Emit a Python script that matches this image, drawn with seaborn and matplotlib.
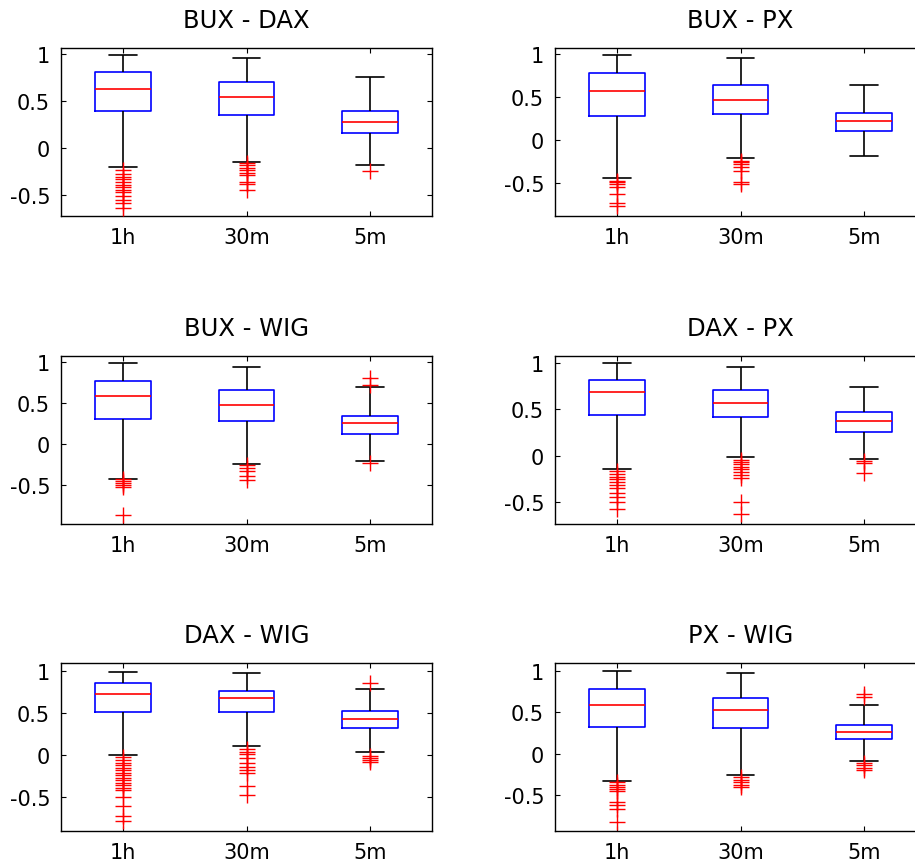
import matplotlib
matplotlib.use("Agg")
import matplotlib.pyplot as plt
from matplotlib.ticker import FuncFormatter
import pandas as pd
import seaborn as sns

freqs = ["1h", "30m", "5m"]
titles = ["BUX - DAX", "BUX - PX", "BUX - WIG", "DAX - PX", "DAX - WIG", "PX - WIG"]

# box summaries per frequency: [lower whisker, q1, median, q3, upper whisker]
bux_dax = [[-0.21, 0.386, 0.62, 0.80, 0.99],
           [-0.154, 0.35, 0.54, 0.70, 0.95],
           [-0.19, 0.157, 0.275, 0.386, 0.757]]
bux_px = [[-0.436, 0.278, 0.567, 0.771, 0.987],
          [-0.208, 0.297, 0.467, 0.632, 0.945],
          [-0.181, 0.104, 0.216, 0.316, 0.632]]
bux_wig = [[-0.418, 0.308, 0.592, 0.77, 0.993],
           [-0.239, 0.284, 0.482, 0.661, 0.944],
           [-0.203, 0.13, 0.263, 0.349, 0.701]]
dax_px = [[-0.15, 0.432, 0.682, 0.814, 0.993],
          [-0.011, 0.411, 0.564, 0.704, 0.954],
          [-0.032, 0.257, 0.375, 0.468, 0.739]]
dax_wig = [[0.0, 0.509, 0.722, 0.853, 0.995],
           [0.103, 0.509, 0.683, 0.766, 0.983],
           [0.04, 0.32, 0.426, 0.529, 0.786]]
px_wig = [[-0.324, 0.328, 0.588, 0.784, 0.995],
          [-0.256, 0.308, 0.524, 0.672, 0.98],
          [-0.084, 0.176, 0.264, 0.348, 0.588]]

# outliers per frequency
bux_dax_out = [[-0.243, -0.28, -0.314, -0.339, -0.368, -0.393, -0.421, -0.446, -0.475, -0.518, -0.554, -0.589, -0.643],
               [-0.168, -0.189, -0.214, -0.239, -0.268, -0.293, -0.368, -0.386, -0.45],
               [-0.25]]
bux_px_out = [[-0.467, -0.486, -0.51, -0.536, -0.62, -0.729, -0.76],
              [-0.235, -0.255, -0.28, -0.312, -0.359, -0.478, -0.505],
              []]
bux_wig_out = [[-0.43, -0.45, -0.47, -0.5, -0.527, -0.86],
               [-0.255, -0.284, -0.324, -0.385, -0.438],
               [0.726, 0.815, -0.223]]
dax_px_out = [[-0.171, -0.2, -0.229, -0.257, -0.286, -0.314, -0.346, -0.4, -0.45, -0.5, -0.579],
              [-0.046, -0.071, -0.096, -0.121, -0.146, -0.175, -0.204, -0.246, -0.504, -0.632],
              [-0.057, -0.082, -0.189]]
dax_wig_out = [[-0.028, -0.06, -0.09, -0.12, -0.15, -0.18, -0.21, -0.24, -0.27, -0.3, -0.33, -0.36, -0.39, -0.42,
                -0.5, -0.604, -0.73, -0.79],
               [0.071, 0.04, 0.008, -0.03, -0.095, -0.146, -0.178, -0.217, -0.371, -0.478],
               [0.853, -0.008, -0.036, -0.059, -0.087]]
px_wig_out = [[-0.344, -0.372, -0.396, -0.424, -0.452, -0.584, -0.624, -0.664, -0.824],
              [-0.284, -0.312, -0.34, -0.372, -0.404],
              [0.716, 0.688, -0.112, -0.14, -0.168, -0.196]]

boxes = [bux_dax, bux_px, bux_wig, dax_px, dax_wig, px_wig]
outs = [bux_dax_out, bux_px_out, bux_wig_out, dax_px_out, dax_wig_out, px_wig_out]
ylims = [(-0.725, 1.06), (-0.872, 1.064), (-0.973, 1.074),
         (-0.736, 1.068), (-0.9, 1.097), (-0.928, 1.096)]

sns.set_theme(style="ticks", rc={
    "xtick.direction": "in", "ytick.direction": "in",
    "xtick.top": True, "ytick.right": True,
    "xtick.major.size": 3.5, "ytick.major.size": 3.5,
    "axes.linewidth": 1.0, "axes.edgecolor": "black",
    "axes.unicode_minus": False,
    "text.color": "black", "axes.labelcolor": "black",
    "xtick.color": "black", "ytick.color": "black",
})
plt.rcParams["font.family"] = ["DejaVu Sans"]

fig = plt.figure(figsize=(9.15, 8.62), dpi=100)

lefts = [0.067, 0.6069]
bottoms = [0.7486, 0.3910, 0.0352]
w, h = 0.4048, 0.1945

for i in range(6):
    ax = fig.add_axes([lefts[i % 2], bottoms[i // 2], w, h])

    box_df = pd.DataFrame([(f, v) for f, vals in zip(freqs, boxes[i]) for v in vals],
                          columns=["freq", "value"])
    out_df = pd.DataFrame([(f, v) for f, vals in zip(freqs, outs[i]) for v in vals],
                          columns=["freq", "value"])

    sns.boxplot(data=box_df, x="freq", y="value", order=freqs, ax=ax,
                whis=(0, 100), width=0.45, fill=False, showfliers=False, linewidth=1.2,
                boxprops=dict(color="blue"), medianprops=dict(color="red"),
                whiskerprops=dict(color="black"), capprops=dict(color="black"))
    sns.stripplot(data=out_df, x="freq", y="value", order=freqs, ax=ax,
                  jitter=False, marker="+", color="red", size=12, linewidth=1)

    ax.set_xlim(-0.5, 2.5)
    ax.set_ylim(*ylims[i])
    ax.set_yticks([-0.5, 0, 0.5, 1])
    ax.yaxis.set_major_formatter(FuncFormatter(lambda v, p: f"{v:g}"))
    ax.set_xlabel("")
    ax.set_ylabel("")
    ax.tick_params(axis="both", labelsize=15, pad=8, width=0.8)
    ax.set_title(titles[i], fontsize=17.5, pad=15)
    for s in ax.spines.values():
        s.set_visible(True)

fig.savefig("out.png", dpi=100)
